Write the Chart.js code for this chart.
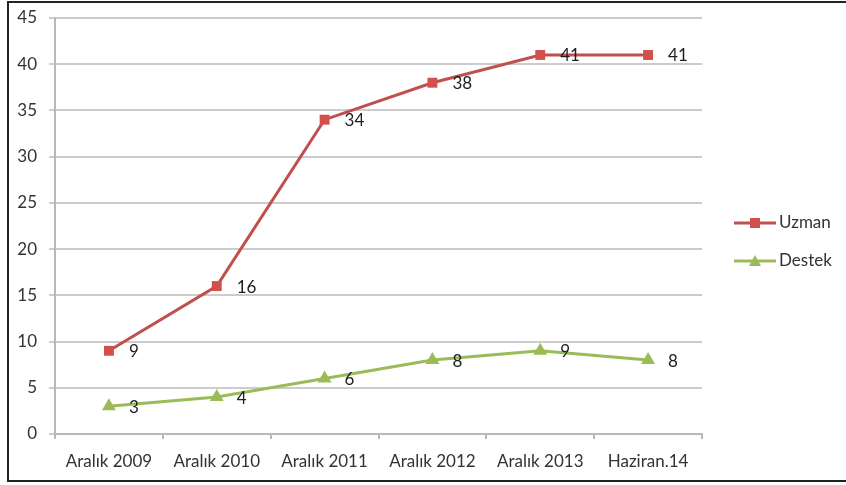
<!DOCTYPE html>
<html>
<head>
<meta charset="utf-8">
<script src="https://cdn.jsdelivr.net/npm/chart.js@4"></script>
<style>
html,body{margin:0;padding:0;background:#fff;}
#wrap{position:relative;width:846px;height:485px;}
#frame{position:absolute;left:7px;top:1px;width:845px;height:481px;border:2px solid #222;box-sizing:border-box;border-right:none;}
canvas{position:absolute;left:0;top:0;}
</style>
</head>
<body>
<div id="wrap">
<canvas id="c" width="846" height="485"></canvas>
<div id="frame"></div>
</div>
<script>
const categories = ["Aralık 2009","Aralık 2010","Aralık 2011","Aralık 2012","Aralık 2013","Haziran.14"];
const uzman = [9,16,34,38,41,41];
const destek = [3,4,6,8,9,8];
const yTicks = [0,5,10,15,20,25,30,35,40,45];

const RED = '#C0504D';
const REDM = '#D24F4B';
const GREEN = '#9BBB59';
const FONT = 'Lato, "Open Sans", sans-serif';

const dataLabels = {
  id:'dataLabels',
  afterDatasetsDraw(chart){
    const ctx = chart.ctx;
    ctx.save();
    ctx.fillStyle = '#1e1e1e';
    ctx.font = '17px ' + FONT;
    ctx.textAlign = 'left';
    ctx.textBaseline = 'middle';
    chart.data.datasets.forEach((ds,i)=>{
      const meta = chart.getDatasetMeta(i);
      meta.data.forEach((pt,j)=>{
        ctx.fillText(String(ds.data[j]), pt.x + 20, pt.y + 1);
      });
    });
    ctx.restore();
  }
};

const sideLegend = {
  id:'sideLegend',
  afterDraw(chart){
    const ctx = chart.ctx;
    ctx.save();
    const items = [
      {label:'Uzman', color:RED, mcolor:REDM, style:'rect', y:223},
      {label:'Destek', color:GREEN, mcolor:GREEN, style:'tri', y:261}
    ];
    items.forEach(it=>{
      ctx.strokeStyle = it.color;
      ctx.lineWidth = 3;
      ctx.beginPath();
      ctx.moveTo(734, it.y);
      ctx.lineTo(776, it.y);
      ctx.stroke();
      ctx.fillStyle = it.mcolor;
      if(it.style==='rect'){
        ctx.fillRect(750, it.y-5, 10, 10);
      } else {
        ctx.beginPath();
        ctx.moveTo(755, it.y-6);
        ctx.lineTo(761, it.y+5);
        ctx.lineTo(749, it.y+5);
        ctx.closePath();
        ctx.fill();
      }
      ctx.fillStyle = '#333';
      ctx.font = '17px ' + FONT;
      ctx.textAlign = 'left';
      ctx.textBaseline = 'middle';
      ctx.fillText(it.label, 779, it.y);
    });
    ctx.restore();
  }
};

new Chart(document.getElementById('c'), {
  type:'line',
  data:{
    labels:categories,
    datasets:[
      {label:'Uzman', data:uzman, borderColor:RED, backgroundColor:REDM, borderWidth:3,
       pointStyle:'rect', pointRadius:7, pointBorderWidth:0, pointBackgroundColor:REDM, tension:0},
      {label:'Destek', data:destek, borderColor:GREEN, backgroundColor:GREEN, borderWidth:3,
       pointStyle:'triangle', pointRadius:8, pointBorderWidth:0, pointBackgroundColor:GREEN, tension:0}
    ]
  },
  options:{
    responsive:false,
    animation:false,
    devicePixelRatio:1,
    layout:{padding:{left:0,top:18,right:144,bottom:0}},
    plugins:{legend:{display:false},tooltip:{enabled:false}},
    scales:{
      x:{
        offset:true,
        grid:{display:true, drawOnChartArea:false, drawTicks:true, tickLength:5, color:'#b8b8b8', lineWidth:2, offset:true},
        border:{display:true, color:'#b8b8b8', width:2},
        ticks:{color:'#333', font:{family:FONT, size:17}, padding:12, maxRotation:0, autoSkip:false},
        afterFit(s){ s.height = 51; s.paddingLeft = 0; s.paddingRight = 0; }
      },
      y:{
        min:0, max:45,
        afterBuildTicks(s){ s.ticks = yTicks.map(v=>({value:v})); },
        grid:{color:'#cccccc', lineWidth:2, drawTicks:true, tickLength:6},
        border:{display:true, color:'#b8b8b8', width:2},
        ticks:{color:'#333', font:{family:FONT, size:17}, padding:12},
        afterFit(s){ s.width = 55; s.paddingTop = 0; s.paddingBottom = 0; }
      }
    }
  },
  plugins:[dataLabels, sideLegend]
});
</script>
</body>
</html>
